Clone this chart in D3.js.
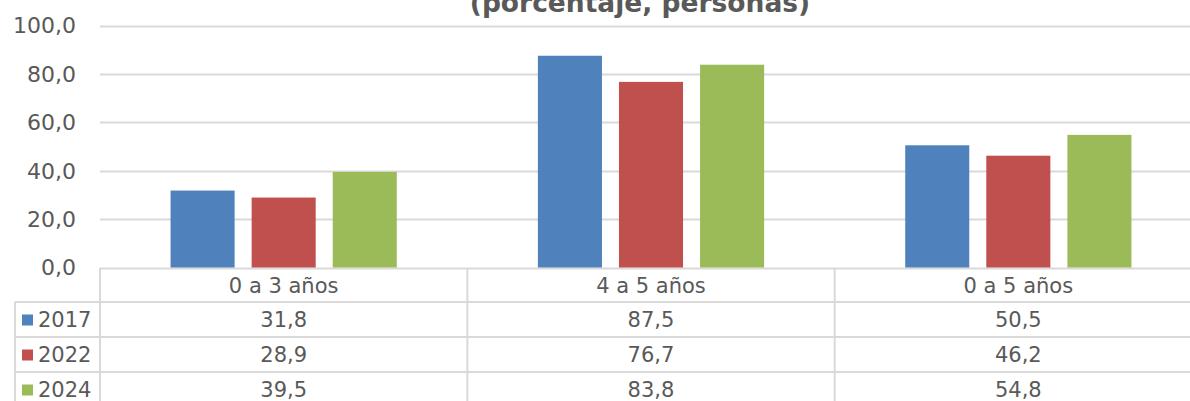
<!DOCTYPE html>
<html>
<head>
<meta charset="utf-8">
<script src="https://cdn.jsdelivr.net/npm/d3@7"></script>
<style>
  body { margin: 0; background: #fff; }
  text { font-family: "DejaVu Sans", Verdana, sans-serif; fill: #595959; }
</style>
</head>
<body>
<div id="chart-area"></div>
<script>
// datos
var categorias = ["0 a 3 años", "4 a 5 años", "0 a 5 años"];
var series = ["2017", "2022", "2024"];
var v2017 = [31.8, 87.5, 50.5];
var v2022 = [28.9, 76.7, 46.2];
var v2024 = [39.5, 83.8, 54.8];
var ticksY = [0, 20, 40, 60, 80, 100];
var colores = ["#4F81BD", "#C0504D", "#9BBB59"];

var valores = [v2017, v2022, v2024];
var fmt = d => d.toFixed(1).replace(".", ",");

var W = 1190, H = 401;
var svg = d3.select("#chart-area").append("svg")
    .attr("width", W)
    .attr("height", H);

var x0 = d3.scaleBand().domain(categorias).range([100, 1202]).padding(0);
var x1 = d3.scaleBand().domain(series).range([0, x0.bandwidth()])
    .paddingInner(0.21).paddingOuter(0.87);
var y = d3.scaleLinear().domain([0, 100]).range([267.5, 25.5]);

// titulo (cortado arriba, como en el original)
svg.append("text")
    .attr("x", 640)
    .attr("y", 12)
    .attr("text-anchor", "middle")
    .attr("font-size", "26.5px")
    .attr("font-weight", "bold")
    .text("(porcentaje, personas)");

// lineas de grilla
svg.selectAll("line.grid")
    .data(ticksY)
    .enter()
    .append("line")
    .attr("class", "grid")
    .attr("x1", 100)
    .attr("x2", 1202)
    .attr("y1", d => Math.round(y(d)) + 0.5)
    .attr("y2", d => Math.round(y(d)) + 0.5)
    .attr("stroke", "#D9D9D9")
    .attr("stroke-width", 2);

// etiquetas eje Y
svg.selectAll("text.ytick")
    .data(ticksY)
    .enter()
    .append("text")
    .attr("class", "ytick")
    .attr("x", 76)
    .attr("y", d => y(d))
    .attr("dy", "0.36em")
    .attr("text-anchor", "end")
    .attr("font-size", "22px")
    .text(d => fmt(d));

// barras
var grupos = svg.selectAll("g.serie")
    .data(series)
    .enter()
    .append("g")
    .attr("class", "serie")
    .attr("fill", (d, i) => colores[i]);

grupos.selectAll("rect")
    .data((s, i) => valores[i].map((v, j) => ({ s: s, c: categorias[j], v: v })))
    .enter()
    .append("rect")
    .attr("x", d => x0(d.c) + x1(d.s))
    .attr("y", d => y(d.v))
    .attr("width", x1.bandwidth())
    .attr("height", d => y(0) - y(d.v));

// tabla de datos
var filaTop = [268, 302, 337, 372, 407];
var tabla = svg.append("g").attr("stroke", "#D9D9D9").attr("stroke-width", 2);

// horizontales
filaTop.slice(1).forEach(function(yy) {
    tabla.append("line")
        .attr("x1", 15).attr("x2", 1202)
        .attr("y1", yy).attr("y2", yy);
});
// verticales
tabla.append("line").attr("x1", 15).attr("x2", 15).attr("y1", 302).attr("y2", H);
categorias.forEach(function(c) {
    tabla.append("line")
        .attr("x1", x0(c)).attr("x2", x0(c))
        .attr("y1", 268).attr("y2", H);
});

// encabezados de categoria
svg.selectAll("text.cat")
    .data(categorias)
    .enter()
    .append("text")
    .attr("class", "cat")
    .attr("x", d => x0(d) + x0.bandwidth() / 2)
    .attr("y", (filaTop[0] + filaTop[1]) / 2)
    .attr("dy", "0.36em")
    .attr("text-anchor", "middle")
    .attr("font-size", "21px")
    .text(d => d);

// filas de valores
series.forEach(function(s, i) {
    var cy = (filaTop[i + 1] + filaTop[i + 2]) / 2;
    svg.append("rect")
        .attr("x", 22)
        .attr("y", cy - 5)
        .attr("width", 11)
        .attr("height", 11)
        .attr("fill", colores[i]);
    svg.append("text")
        .attr("x", 38)
        .attr("y", cy)
        .attr("dy", "0.36em")
        .attr("font-size", "21px")
        .text(s);
    svg.selectAll("text.val" + s)
        .data(valores[i])
        .enter()
        .append("text")
        .attr("x", (d, j) => x0(categorias[j]) + x0.bandwidth() / 2)
        .attr("y", cy)
        .attr("dy", "0.36em")
        .attr("text-anchor", "middle")
        .attr("font-size", "21px")
        .text(d => fmt(d));
});
</script>
</body>
</html>
